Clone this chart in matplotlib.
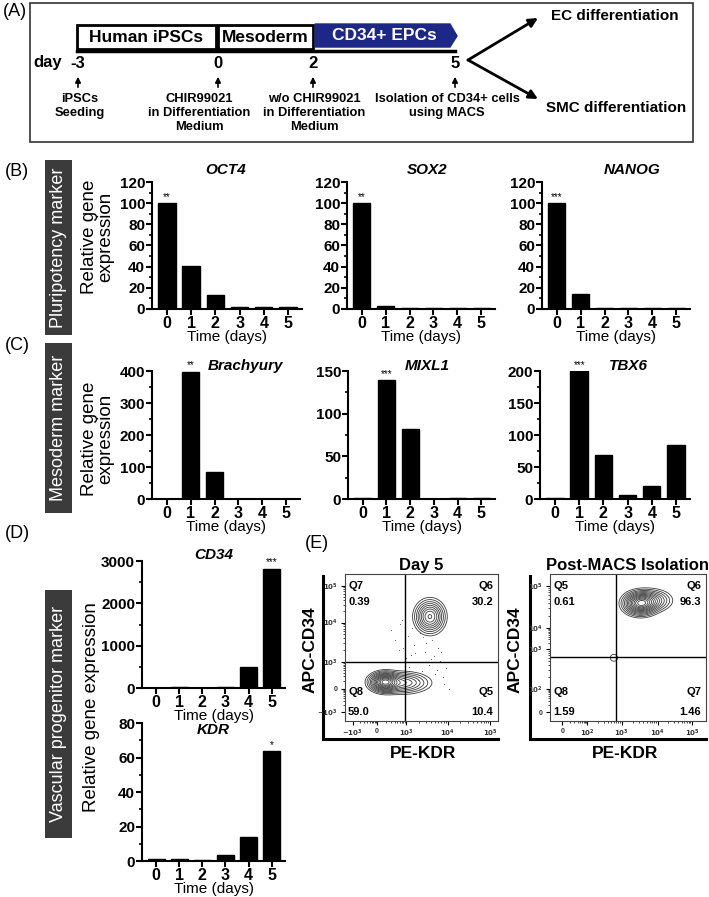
import numpy as np
import matplotlib
matplotlib.use('Agg')
import matplotlib.pyplot as plt
from matplotlib.patches import Rectangle, Polygon
from matplotlib.ticker import MultipleLocator, FixedLocator

plt.rcParams['font.family'] = ['Liberation Sans', 'DejaVu Sans']
plt.rcParams['font.weight'] = 'bold'
plt.rcParams['axes.linewidth'] = 1.5

W, H = 709, 897

# ---- data ----
days = [0, 1, 2, 3, 4, 5]
oct4 = [100, 41, 13, 1.5, 1.5, 1.8]
sox2 = [100, 3, 1, 1, 1, 0.8]
nanog = [100, 14, 1, 0.8, 1.2, 1.3]
brachyury = [1, 398, 85, 1, 1, 1.5]
mixl1 = [1, 139, 82, 0.5, 1, 1.2]
tbx6 = [2, 200, 69, 6, 21, 84]
cd34 = [2, 15, 5, 12, 500, 2820]
kdr = [1.3, 1.2, 0.6, 3.3, 14.2, 63.5]

timeline_days = ['-3', '0', '2', '5']
timeline_notes = ['iPSCs\nSeeding', 'CHIR99021\nin Differentiation\nMedium',
                  'w/o CHIR99021\nin Differentiation\nMedium',
                  'Isolation of CD34+ cells\nusing MACS']

# flow cytometry: quadrant percentages and population centres (axes fraction)
day5_quads = ['Q7', 'Q6', 'Q8', 'Q5']
day5_pct = ['0.39', '30.2', '59.0', '10.4']
macs_quads = ['Q5', 'Q6', 'Q8', 'Q7']
macs_pct = ['0.61', '96.3', '1.59', '1.46']

day5_pop_x = [0.26, 0.37, 0.555]
day5_pop_y = [0.265, 0.26, 0.71]
day5_pop_sx = [0.045, 0.085, 0.045]
day5_pop_sy = [0.03, 0.034, 0.052]
day5_pop_w = [1.0, 0.35, 0.55]
day5_dots_x = [0.30, 0.33, 0.36, 0.38, 0.41, 0.43, 0.45, 0.47, 0.49, 0.52, 0.55, 0.58,
               0.60, 0.62, 0.64, 0.57, 0.50, 0.44, 0.40, 0.35, 0.66, 0.53, 0.46, 0.61,
               0.59, 0.48, 0.42, 0.56, 0.63, 0.51, 0.65, 0.68, 0.37]
day5_dots_y = [0.62, 0.55, 0.66, 0.50, 0.58, 0.45, 0.52, 0.40, 0.60, 0.47, 0.38, 0.44,
               0.35, 0.41, 0.30, 0.55, 0.34, 0.63, 0.43, 0.48, 0.36, 0.53, 0.46, 0.50,
               0.32, 0.28, 0.37, 0.42, 0.47, 0.57, 0.25, 0.22, 0.69]

macs_pop_x = [0.58, 0.65, 0.41]
macs_pop_y = [0.80, 0.82, 0.43]
macs_pop_sx = [0.05, 0.06, 0.02]
macs_pop_sy = [0.036, 0.035, 0.02]
macs_pop_w = [1.0, 0.3, 0.045]


def add_px(x0, y0, x1, y1):
    return fig.add_axes([x0 / W, 1 - y1 / H, (x1 - x0) / W, (y1 - y0) / H])


fig = plt.figure(figsize=(W / 100, H / 100), dpi=100)

ov = fig.add_axes([0, 0, 1, 1])
ov.set_xlim(0, W)
ov.set_ylim(H, 0)
ov.axis('off')

# ---- panel A ----
ov.text(3, 12, '(A)', fontsize=13, weight='normal', va='center')
ov.add_patch(Rectangle((30, 3), 663, 139, fill=False, lw=1.2, ec='#333333'))
ov.add_patch(Rectangle((77, 25), 139, 24, fill=False, lw=2, ec='black'))
ov.add_patch(Rectangle((218, 25), 95, 24, fill=False, lw=2, ec='black'))
ov.add_patch(Polygon([(315, 24), (450, 24), (457, 36), (450, 47), (315, 47)],
                     closed=True, fc='#1c2787', ec='#1c2787'))
ov.text(146, 37, 'Human iPSCs', fontsize=12.5, ha='center', va='center')
ov.text(265, 37, 'Mesoderm', fontsize=12.5, ha='center', va='center')
ov.text(384, 36, 'CD34+ EPCs', fontsize=12.5, ha='center', va='center', color='white')
ov.plot([77, 455], [51, 51], color='black', lw=2.5)
ov.text(48, 62, 'day', fontsize=12, ha='center', va='center')
day_x = [78, 218, 313, 455]
note_x = [80, 199, 314, 447]
for lbl, dx, nt, nx in zip(timeline_days, day_x, timeline_notes, note_x):
    ov.text(dx, 63, lbl, fontsize=12, ha='center', va='center')
    ov.annotate('', xy=(dx, 74), xytext=(dx, 90),
                arrowprops=dict(arrowstyle='-|>', lw=1.2, color='black', mutation_scale=8))
    ov.text(nx, 93, nt, fontsize=9.3, ha='center', va='top', linespacing=1.2)
for ty in [18, 99]:
    ov.annotate('', xy=(538, ty), xytext=(468, 60),
                arrowprops=dict(arrowstyle='-|>', lw=2, color='black', mutation_scale=13,
                                shrinkA=0, shrinkB=0))
ov.text(615, 16, 'EC differentiation', fontsize=11, ha='center', va='center')
ov.text(616, 108, 'SMC differentiation', fontsize=11, ha='center', va='center')

# ---- panel labels, side boxes, y labels ----
ov.text(5, 172, '(B)', fontsize=13, weight='normal', va='center')
ov.text(5, 345, '(C)', fontsize=13, weight='normal', va='center')
ov.text(5, 533, '(D)', fontsize=13, weight='normal', va='center')
ov.text(305, 543, '(E)', fontsize=13, weight='normal', va='center')

side = [('Pluripotency marker', 160, 335), ('Mesoderm marker', 343, 513),
        ('Vascular progenitor marker', 590, 838)]
for txt, y0, y1 in side:
    ov.add_patch(Rectangle((45, y0), 27, y1 - y0, fc='#3b3b3b', ec='none'))
    ov.text(58.5, (y0 + y1) / 2, txt, rotation=90, color='white', fontsize=13,
            weight='normal', ha='center', va='center')

ov.text(98, 237, 'Relative gene\nexpression', rotation=90, fontsize=13.5, weight='normal',
        ha='center', va='center', linespacing=0.95)
ov.text(98, 439, 'Relative gene\nexpression', rotation=90, fontsize=13.5, weight='normal',
        ha='center', va='center', linespacing=0.95)
ov.text(92, 707, 'Relative gene expression', rotation=90, fontsize=13.5, weight='normal',
        ha='center', va='center')


# ---- bar panels ----
def bar_panel(rect, values, title, tpos, ymax, ystep, yminor, sig, sig_idx):
    ax = add_px(*rect)
    ax.bar(days, values, width=0.72, color='black', edgecolor='black', lw=1, zorder=3)
    ax.set_xlim(-0.62, 5.58)
    ax.set_ylim(0, ymax)
    ax.spines['top'].set_visible(False)
    ax.spines['right'].set_visible(False)
    ax.set_xticks(days)
    ax.yaxis.set_major_locator(MultipleLocator(ystep))
    ax.yaxis.set_minor_locator(MultipleLocator(yminor))
    ax.tick_params(which='major', direction='out', length=4, width=1.5, labelsize=11, pad=1)
    ax.tick_params(which='minor', axis='y', direction='out', length=2.5, width=1.2)
    ax.tick_params(axis='x', labelsize=11.5, pad=1)
    ax.set_xlabel('Time (days)', fontsize=11, labelpad=-1)
    ax.text(tpos[0], tpos[1], title, transform=ax.transAxes, fontsize=11, style='italic',
            ha='center', va='center')
    ax.text(sig_idx, values[sig_idx] + ymax * 0.01, sig, fontsize=7, ha='center',
            va='bottom', weight='normal')
    return ax


bar_panel((152, 182, 302, 309), oct4, 'OCT4', (0.49, 1.095), 120, 20, 10, '**', 0)
bar_panel((347, 182, 495, 309), sox2, 'SOX2', (0.54, 1.095), 120, 20, 10, '**', 0)
bar_panel((542, 182, 690, 309), nanog, 'NANOG', (0.61, 1.095), 120, 20, 10, '***', 0)
bar_panel((152, 371, 300, 499), brachyury, 'Brachyury', (0.635, 1.04), 400, 100, 50, '**', 1)
bar_panel((348, 371, 495, 499), mixl1, 'MIXL1', (0.54, 1.04), 150, 50, 25, '***', 1)
bar_panel((540, 371, 690, 499), tbx6, 'TBX6', (0.59, 1.04), 200, 50, 25, '***', 1)
bar_panel((142, 561, 285, 688), cd34, 'CD34', (0.50, 1.05), 3000, 1000, 500, '***', 5)
bar_panel((142, 723, 285, 861), kdr, 'KDR', (0.50, 0.95), 80, 20, 10, '*', 5)


# ---- flow panels ----
def minor_between(pos):
    out = []
    for a, b in zip(pos[:-1], pos[1:]):
        out += [a + (b - a) * np.log10(k) for k in range(2, 10)]
    return out


def flow_panel(rect, frame, title, xt, xl, yt, yl, qx, qy, quads, pct,
               px, py, psx, psy, pw, dots=None):
    # thick outer L axes
    fr = add_px(*frame)
    fr.set_facecolor('none')
    for s in ['top', 'right']:
        fr.spines[s].set_visible(False)
    fr.spines['left'].set_linewidth(2.2)
    fr.spines['bottom'].set_linewidth(2.2)
    fr.set_xticks([])
    fr.set_yticks([])

    ax = add_px(*rect)
    ax.set_xlim(0, 1)
    ax.set_ylim(0, 1)
    for s in ax.spines.values():
        s.set_linewidth(0.8)
        s.set_color('#444444')
    gx, gy = np.meshgrid(np.linspace(0, 1, 400), np.linspace(0, 1, 400))
    dens = np.zeros_like(gx)
    for cx, cy, sx, sy, w in zip(px, py, psx, psy, pw):
        dens += w * np.exp(-((gx - cx) ** 2 / (2 * sx ** 2) + (gy - cy) ** 2 / (2 * sy ** 2)))
    lv = dens.max() * np.array([0.02, 0.04, 0.07, 0.11, 0.16, 0.22, 0.29, 0.37,
                                0.46, 0.56, 0.67, 0.78, 0.9])
    ax.contour(gx, gy, dens, levels=lv, colors='#3a3a3a', linewidths=0.6)
    if dots is not None:
        ax.scatter(dots[0], dots[1], s=0.6, color='#555555', lw=0)
    ax.axvline(qx, color='black', lw=1)
    ax.axhline(qy, color='black', lw=1)
    ax.set_xticks(xt)
    ax.set_xticklabels(xl)
    ax.set_yticks(yt)
    ax.set_yticklabels(yl)
    ax.xaxis.set_minor_locator(FixedLocator(minor_between(xt)))
    ax.yaxis.set_minor_locator(FixedLocator(minor_between(yt)))
    ax.tick_params(which='major', length=3, width=0.8, labelsize=5, pad=2,
                   labelcolor='#333333')
    ax.tick_params(which='minor', length=1.5, width=0.5)
    kw = dict(transform=ax.transAxes, fontsize=8)
    ax.text(0.02, 0.92, quads[0], ha='left', va='center', **kw)
    ax.text(0.02, 0.81, pct[0], ha='left', va='center', **kw)
    ax.text(0.97, 0.92, quads[1], ha='right', va='center', **kw)
    ax.text(0.97, 0.81, pct[1], ha='right', va='center', **kw)
    ax.text(0.02, 0.20, quads[2], ha='left', va='center', **kw)
    ax.text(0.02, 0.06, pct[2], ha='left', va='center', **kw)
    ax.text(0.97, 0.20, quads[3], ha='right', va='center', **kw)
    ax.text(0.97, 0.06, pct[3], ha='right', va='center', **kw)
    ax.set_title(title, fontsize=12, fontweight='bold', pad=3)
    return ax


flow_panel((345, 574, 498, 721), (323, 576, 498, 739), 'Day 5',
           [0.05, 0.21, 0.40, 0.67, 0.95],
           [r'$-10^3$', '0', r'$10^3$', r'$10^4$', r'$10^5$'],
           [0.06, 0.22, 0.40, 0.67, 0.92],
           [r'$-10^3$', '0', r'$10^3$', r'$10^4$', r'$10^5$'],
           0.39, 0.40, day5_quads, day5_pct,
           day5_pop_x, day5_pop_y, day5_pop_sx, day5_pop_sy, day5_pop_w,
           dots=(day5_dots_x, day5_dots_y))
flow_panel((550, 574, 706, 721), (530, 576, 706, 739), 'Post-MACS Isolation',
           [0.08, 0.24, 0.46, 0.69, 0.91],
           ['0', r'$10^2$', r'$10^3$', r'$10^4$', r'$10^5$'],
           [0.06, 0.22, 0.49, 0.63, 0.92],
           ['0', r'$10^2$', r'$10^3$', r'$10^4$', r'$10^5$'],
           0.42, 0.435, macs_quads, macs_pct,
           macs_pop_x, macs_pop_y, macs_pop_sx, macs_pop_sy, macs_pop_w)

ov.text(310, 650, 'APC-CD34', rotation=90, fontsize=12.5, ha='center', va='center')
ov.text(515, 650, 'APC-CD34', rotation=90, fontsize=12.5, ha='center', va='center')
ov.text(423, 753, 'PE-KDR', fontsize=12.5, ha='center', va='center')
ov.text(625, 753, 'PE-KDR', fontsize=12.5, ha='center', va='center')

fig.savefig('out.png', dpi=100)
